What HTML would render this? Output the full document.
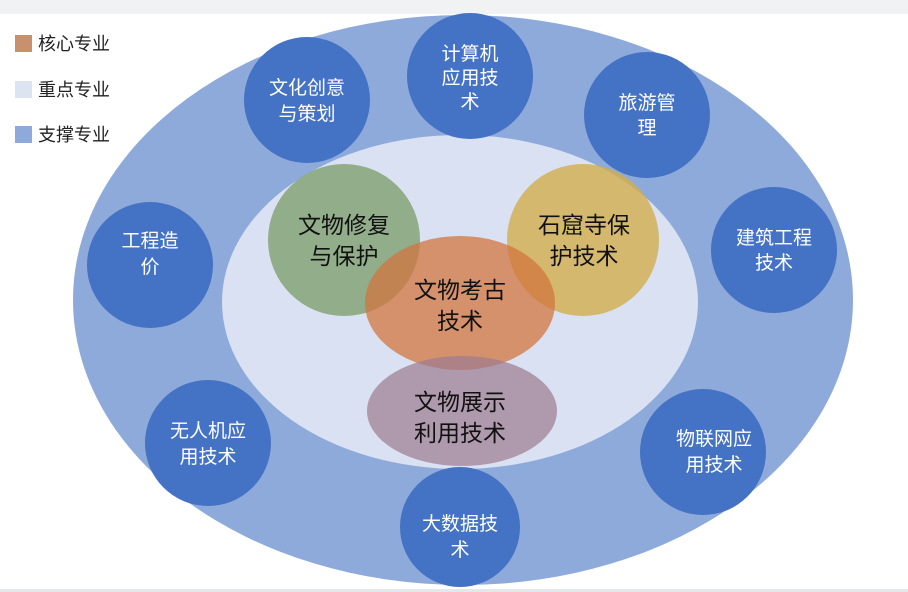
<!DOCTYPE html>
<html><head><meta charset="utf-8"><style>
html,body{margin:0;padding:0;background:#fff;}
svg{display:block;font-family:"Liberation Sans","Noto Sans CJK SC",sans-serif;}
.w{fill:#fff;font-size:19px;text-anchor:middle;}
.b{fill:#111;font-size:23px;text-anchor:middle;}
.l{fill:#222;font-size:18px;}
</style></head><body>
<svg width="908" height="592" viewBox="0 0 908 592">
<rect x="0" y="0" width="908" height="14" fill="#f1f2f4"/>
<rect x="0" y="589" width="908" height="3" fill="#e6e7e9"/>
<ellipse cx="463" cy="300" rx="390" ry="285" fill="#8eaadb"/>
<ellipse cx="460" cy="302" rx="238" ry="167" fill="#d9e1f2"/>
<g fill="#4472c4">
<circle cx="307" cy="100" r="63"/>
<circle cx="470" cy="76" r="63"/>
<circle cx="647" cy="115" r="63"/>
<circle cx="774" cy="250" r="63"/>
<circle cx="150" cy="265" r="63"/>
<circle cx="208" cy="443" r="63"/>
<circle cx="460" cy="527" r="60"/>
<circle cx="703" cy="452" r="63"/>
</g>
<text class="w" x="307" y="94">文化创意</text><text class="w" x="307" y="120">与策划</text>
<text class="w" x="470" y="60">计算机</text><text class="w" x="470" y="84">应用技</text><text class="w" x="470" y="108">术</text>
<text class="w" x="647" y="109">旅游管</text><text class="w" x="647" y="134">理</text>
<text class="w" x="774" y="244">建筑工程</text><text class="w" x="774" y="269">技术</text>
<text class="w" x="150" y="247">工程造</text><text class="w" x="150" y="273">价</text>
<text class="w" x="208" y="437">无人机应</text><text class="w" x="208" y="463">用技术</text>
<text class="w" x="460" y="530">大数据技</text><text class="w" x="460" y="556">术</text>
<text class="w" x="714" y="445">物联网应</text><text class="w" x="714" y="471">用技术</text>
<circle cx="344" cy="240" r="76" fill="#7fa06f" opacity="0.8"/>
<circle cx="583" cy="240" r="76" fill="#d1ae4c" opacity="0.8"/>
<ellipse cx="460" cy="303" rx="95" ry="67" fill="#d2763f" opacity="0.75"/>
<ellipse cx="462" cy="411" rx="95" ry="55" fill="#9c7a90" opacity="0.7"/>
<text class="b" x="344" y="233">文物修复</text><text class="b" x="344" y="264">与保护</text>
<text class="b" x="584" y="233">石窟寺保</text><text class="b" x="584" y="264">护技术</text>
<text class="b" x="460" y="298">文物考古</text><text class="b" x="460" y="329">技术</text>
<text class="b" x="460" y="410">文物展示</text><text class="b" x="460" y="441">利用技术</text>
<rect x="15" y="35" width="17" height="17" fill="#c9906e"/>
<text class="l" x="38" y="50">核心专业</text>
<rect x="15" y="81" width="17" height="17" fill="#dce3f1"/>
<text class="l" x="38" y="96">重点专业</text>
<rect x="15" y="126" width="17" height="17" fill="#8eaadb"/>
<text class="l" x="38" y="141">支撑专业</text>
</svg>
</body></html>
